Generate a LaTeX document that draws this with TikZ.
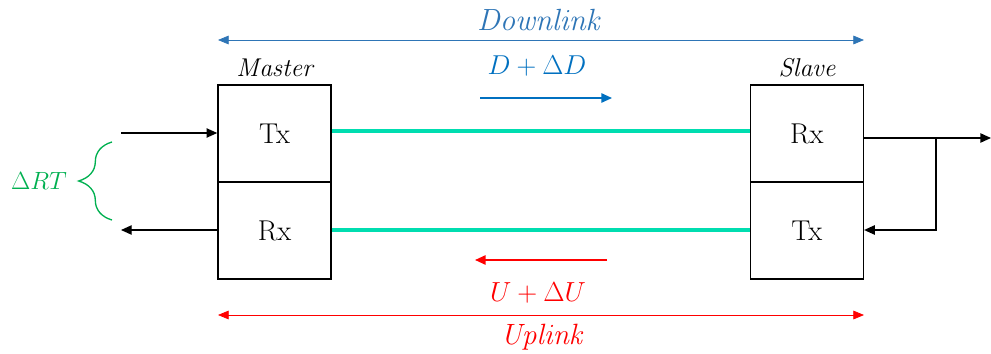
\RequirePackage{fix-cm}
\documentclass[tikz,border=0pt]{standalone}
\usetikzlibrary{arrows.meta,decorations.pathreplacing}
\definecolor{teal1}{HTML}{00DDB0}
\definecolor{dlblue}{HTML}{2E75B6}
\definecolor{dblue}{HTML}{0070C0}
\definecolor{ured}{HTML}{FF0000}
\definecolor{gr}{HTML}{00B050}
\begin{document}
\begin{tikzpicture}[x=0.75pt,y=-0.75pt,
  cell/.style={draw,line width=1.2pt,minimum width=113*0.75pt,minimum height=97*0.75pt,inner sep=0pt,font=\fontsize{21.5}{26}\selectfont},
  link/.style={line width=3pt,teal1},
  sig/.style={line width=1pt,-{Triangle[length=8pt,width=7pt]}},
  span/.style={line width=0.6pt,{Triangle[length=8pt,width=6.5pt]}-{Triangle[length=8pt,width=6.5pt]}},
  lbl/.style={inner sep=0pt}]
\useasboundingbox (0,0) rectangle (991,353);
% boxes
\node[cell] (mtx) at (274.5,133.5) {Tx};
\node[cell] (mrx) at (274.5,230.5) {Rx};
\node[cell] (srx) at (806.8,133.5) {Rx};
\node[cell] (stx) at (806.8,230.5) {Tx};
\node[lbl,font=\fontsize{19.3}{23}\selectfont] (mlab) at (276,68) {$\mathit{Master}$};
\node[lbl,font=\fontsize{19.3}{23}\selectfont] (slab) at (808,68) {$\mathit{Slave}$};
% links
\draw[link] (mtx.east|-0,131) -- (srx.west|-0,131);
\draw[link] (mrx.east|-0,230) -- (stx.west|-0,230);
% left signals
\coordinate (inL) at (121,133);
\coordinate (outL) at (121,230);
\draw[sig] (inL) -- (mtx.west|-inL);
\draw[sig] (mrx.west|-outL) -- (outL);
% brace
\draw[gr,line width=1pt,decorate,decoration={brace,amplitude=25pt,mirror,aspect=0.5}] (112,142) -- (112,220);
\node[lbl,text=gr,font=\fontsize{18.7}{23}\selectfont] (drt) at (39,181) {$\Delta RT$};
% slave loop
\coordinate (outR) at (991,138);
\coordinate (br) at (936,138);
\coordinate (br2) at (936,230);
\draw[sig] (srx.east|-outR) -- (outR);
\draw[sig] (br) -- (br2) -- (stx.east|-br2);
% downlink
\coordinate (dl1) at (218,40);
\coordinate (dl2) at (864,40);
\draw[span,dlblue] (dl1) -- (dl2);
\node[lbl,text=dlblue,font=\fontsize{23}{27}\selectfont] (dlt) at (540,20) {$\mathit{Downlink}$};
\node[lbl,text=dblue,font=\fontsize{20.5}{25}\selectfont] (dd) at (537,66) {$D+\Delta D$};
\coordinate (da1) at (480,98);
\coordinate (da2) at (612,98);
\draw[sig,dblue,line width=1.3pt] (da1) -- (da2);
% uplink
\coordinate (ua1) at (607,260);
\coordinate (ua2) at (475,260);
\draw[sig,ured,line width=1.3pt] (ua1) -- (ua2);
\node[lbl,text=ured,font=\fontsize{20.7}{25}\selectfont] (uu) at (538,293) {$U+\Delta U$};
\coordinate (ul1) at (218,315);
\coordinate (ul2) at (864,315);
\draw[span,ured] (ul1) -- (ul2);
\node[lbl,text=ured,font=\fontsize{22}{26}\selectfont] (ult) at (543,337) {$\mathit{Uplink}$};
\end{tikzpicture}
\end{document}
